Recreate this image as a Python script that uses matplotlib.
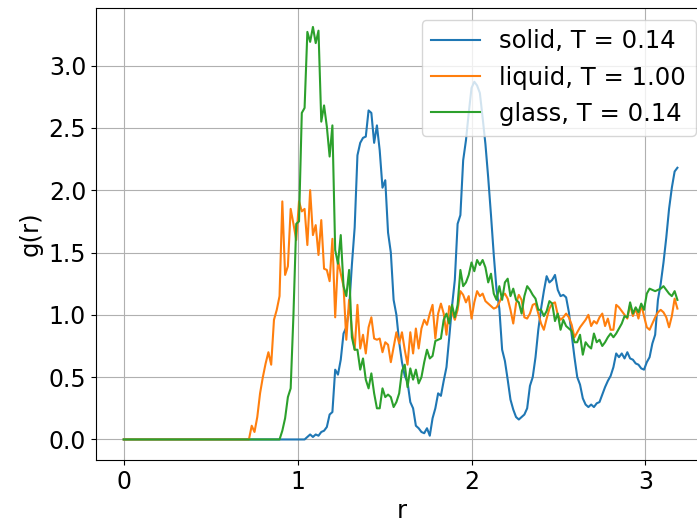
import numpy as np
import matplotlib
matplotlib.use("Agg")
import matplotlib.pyplot as plt

# --- radial grid (bin spacing 0.016) ---
n_points = 200
dr = 0.016
r = np.arange(n_points) * dr

# --- g(r) values ---
g_solid = [0.0] * 66 + [
    0.02, 0.04, 0.02, 0.04,
    0.03, 0.06, 0.07, 0.10, 0.20, 0.22, 0.56, 0.52, 0.64, 0.85,
    0.90, 1.05, 1.40, 1.70, 2.28, 2.38, 2.42, 2.43, 2.64, 2.62,
    2.38, 2.52, 2.32, 2.02, 2.08, 1.66, 1.50, 1.12, 1.00, 0.78,
    0.62, 0.51, 0.46, 0.30, 0.25, 0.11, 0.09, 0.06, 0.05, 0.09,
    0.03, 0.17, 0.25, 0.37, 0.35, 0.47, 0.58, 0.82, 1.07, 1.28,
    1.73, 1.80, 2.24, 2.40, 2.62, 2.82, 2.87, 2.84, 2.78, 2.58,
    2.37, 2.10, 1.80, 1.48, 1.20, 1.05, 0.72, 0.63, 0.48, 0.32,
    0.24, 0.18, 0.16, 0.18, 0.20, 0.25, 0.43, 0.50, 0.66, 0.88,
    1.05, 1.19, 1.31, 1.26, 1.28, 1.32, 1.20, 1.15, 1.16, 1.14,
    1.02, 0.84, 0.66, 0.50, 0.44, 0.33, 0.28, 0.26, 0.28, 0.26,
    0.29, 0.30, 0.36, 0.42, 0.47, 0.51, 0.58, 0.69, 0.66, 0.69,
    0.65, 0.70, 0.65, 0.64, 0.61, 0.60, 0.57, 0.56, 0.62, 0.66,
    0.77, 0.84, 1.12, 1.25, 1.42, 1.62, 1.85, 2.02, 2.15, 2.18,
]

g_liquid = [0.0] * 46 + [
    0.11, 0.06, 0.18, 0.37,
    0.50, 0.61, 0.70, 0.60, 0.96, 1.04, 1.15, 1.91, 1.32, 1.39,
    1.85, 1.73, 1.60, 1.91, 1.83, 1.85, 1.56, 2.00, 1.64, 1.72,
    1.48, 1.76, 1.37, 1.36, 1.27, 1.61, 0.98, 1.44, 1.33, 1.23,
    0.80, 1.12, 0.88, 0.72, 1.08, 0.73, 0.84, 0.69, 0.90, 0.98,
    0.81, 0.80, 0.81, 0.70, 0.78, 0.76, 0.62, 0.74, 0.86, 0.77,
    0.86, 0.72, 0.60, 0.86, 0.69, 0.89, 0.73, 0.89, 0.96, 0.92,
    1.01, 1.08, 0.81, 1.01, 1.09, 1.01, 0.84, 1.07, 1.02, 0.96,
    1.04, 1.19, 1.16, 1.10, 1.15, 0.97, 1.10, 1.19, 1.15, 1.17,
    1.11, 1.09, 1.07, 1.05, 1.06, 1.10, 1.15, 1.17, 1.13, 1.04,
    0.93, 1.09, 1.16, 1.12, 0.98, 0.97, 1.01, 1.08, 1.09, 1.01,
    0.93, 0.88, 0.97, 1.05, 1.09, 1.10, 1.00, 0.96, 0.98, 1.01,
    0.98, 0.92, 0.82, 0.86, 0.90, 0.93, 0.96, 1.00, 0.91, 0.95,
    0.93, 0.98, 1.01, 0.91, 0.97, 0.88, 0.88, 1.08, 1.06, 1.03,
    1.00, 0.97, 1.08, 0.99, 1.05, 0.97, 1.08, 0.99, 0.90, 0.88,
    0.93, 0.98, 1.02, 1.04, 1.02, 0.98, 0.90, 0.99, 1.13, 1.05,
]

g_glass = [0.0] * 57 + [
    0.07, 0.17, 0.34,
    0.41, 1.00, 1.73, 1.75, 2.62, 2.66, 3.27, 3.19, 3.31, 3.18,
    3.28, 2.55, 2.68, 2.51, 2.27, 2.52, 1.52, 1.41, 1.64, 1.23,
    1.15, 1.36, 0.82, 0.72, 0.72, 0.56, 0.65, 0.48, 0.41, 0.53,
    0.37, 0.25, 0.25, 0.41, 0.34, 0.36, 0.34, 0.26, 0.30, 0.37,
    0.55, 0.60, 0.42, 0.57, 0.48, 0.56, 0.45, 0.50, 0.62, 0.72,
    0.65, 0.67, 0.79, 0.80, 0.81, 0.96, 1.01, 0.93, 1.08, 0.98,
    1.08, 1.36, 1.23, 1.26, 1.32, 1.42, 1.35, 1.44, 1.40, 1.44,
    1.38, 1.26, 1.33, 1.17, 1.12, 1.23, 1.12, 1.26, 1.29, 1.15,
    1.21, 1.12, 1.10, 1.01, 1.15, 1.23, 1.20, 1.16, 1.13, 1.04,
    1.04, 0.99, 1.03, 1.11, 1.09, 0.95, 1.01, 0.88, 0.96, 0.91,
    0.89, 0.87, 0.78, 0.78, 0.84, 0.68, 0.78, 0.75, 0.73, 0.85,
    0.78, 0.80, 0.75, 0.78, 0.82, 0.85, 0.82, 0.85, 0.89, 0.93,
    0.99, 0.98, 1.10, 1.01, 1.06, 1.02, 1.09, 1.04, 1.17, 1.21,
    1.20, 1.19, 1.20, 1.21, 1.23, 1.20, 1.17, 1.15, 1.19, 1.12,
]

labels = ["solid, T = 0.14", "liquid, T = 1.00", "glass, T = 0.14"]

# --- Plot ---
fig = plt.figure(figsize=(6.97, 5.32), dpi=100)
# right spine falls just outside the figure, as in the original
ax = fig.add_axes([0.1376, 0.1353, 0.8782, 0.8504])

ax.plot(r, g_solid, label=labels[0], color="tab:blue")
ax.plot(r, g_liquid, label=labels[1], color="tab:orange")
ax.plot(r, g_glass, label=labels[2], color="tab:green")

ax.set_xlim(-0.16, 3.36)
ax.set_ylim(-0.165, 3.465)
ax.set_xticks([0, 1, 2, 3])
ax.set_yticks(np.arange(0, 3.01, 0.5))
ax.tick_params(labelsize=17)
ax.set_xlabel("r", fontsize=17.5)
ax.set_ylabel("g(r)", fontsize=17.5)
ax.grid(True)
ax.legend(loc="upper right", fontsize=17.5)

fig.savefig("out.png", dpi=100)
